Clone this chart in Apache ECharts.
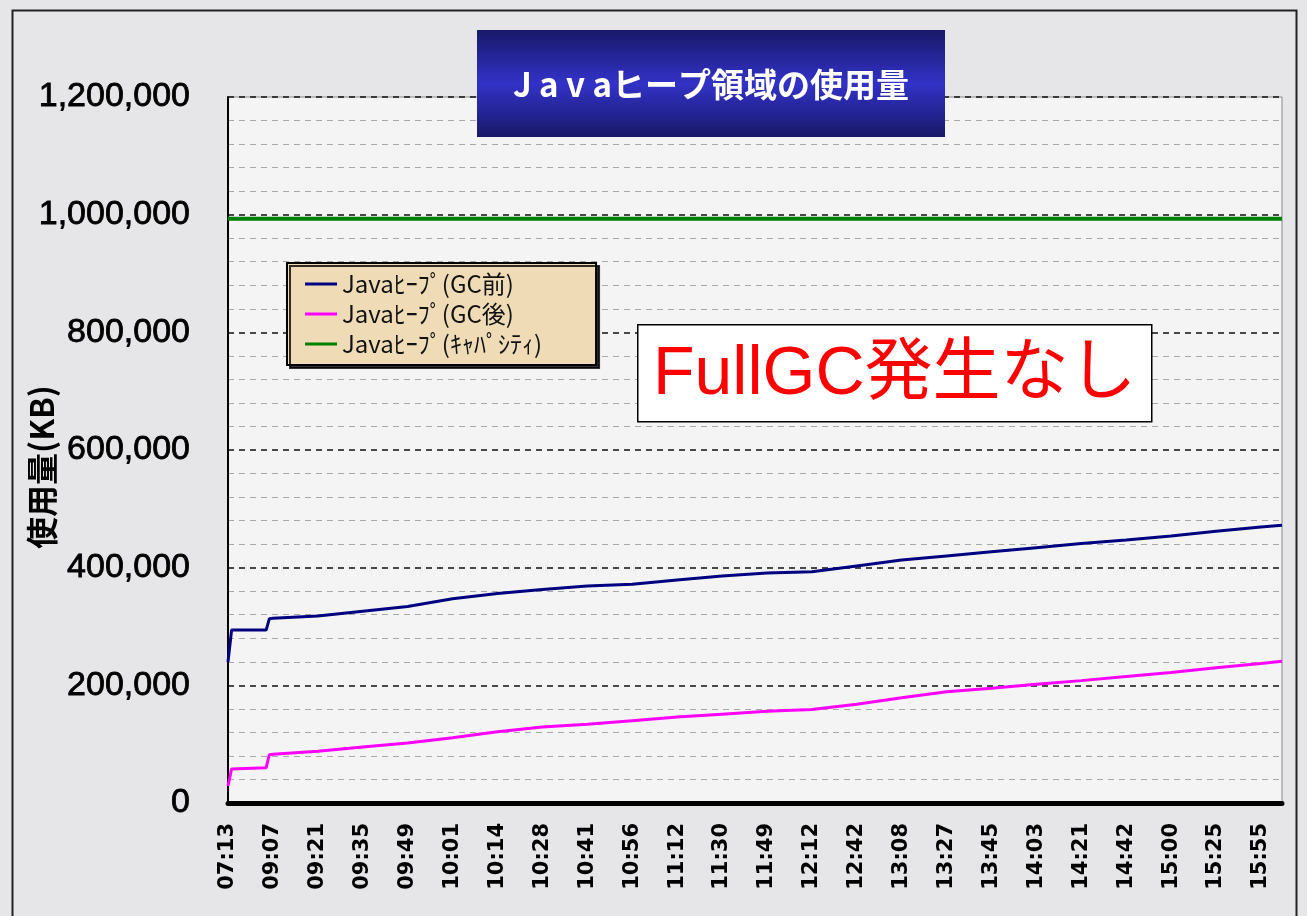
<!DOCTYPE html>
<html>
<head>
<meta charset="utf-8">
<title>Javaヒープ領域の使用量</title>
<script src="https://cdn.jsdelivr.net/npm/echarts@6/dist/echarts.min.js"></script>
<style>
  html, body { margin: 0; padding: 0; background: #e6e6e8; }
  #chart { width: 1307px; height: 916px; }
</style>
</head>
<body>
<div id="chart"></div>
<script>
// tick labels on the time axis (one every label interval)
var timeLabels = ['07:13', '09:07', '09:21', '09:35', '09:49', '10:01', '10:14', '10:28',
  '10:41', '10:56', '11:12', '11:30', '11:49', '12:12', '12:42', '13:08', '13:27',
  '13:45', '14:03', '14:21', '14:42', '15:00', '15:25', '15:55']

// sample positions, in label intervals from 07:13
var samplePos = [0, 0.08, 0.85, 0.92, 1, 2, 3, 4, 5, 6, 7, 8, 9, 10, 11, 12,
  13, 14, 15, 16, 17, 18, 19, 20, 21, 22, 23, 23.47]

// KB
var heapBefore = [240000, 294000, 294000, 313000, 314000, 318000, 326000, 334000, 347000,
  356000, 363000, 369000, 372000, 379000, 386000, 391000, 393000, 403000, 413000,
  420000, 427000, 434000, 441000, 447000, 454000, 462000, 469000, 472000]
var heapAfter = [29000, 58000, 60000, 82000, 83000, 88000, 95000, 102000, 111000,
  121000, 129000, 134000, 140000, 146000, 151000, 156000, 159000, 168000, 179000,
  189000, 195000, 202000, 208000, 215000, 222000, 230000, 237000, 241000]
var heapCapacity = 993000

var seriesNames = ['Javaﾋｰﾌﾟ(GC前)', 'Javaﾋｰﾌﾟ(GC後)', 'Javaﾋｰﾌﾟ(ｷｬﾊﾟｼﾃｨ)']

function pairs(values) {
  return samplePos.map(function(p, i) { return [p, values[i]] })
}

var chart = echarts.init(document.getElementById('chart'))

chart.setOption({
  animation: false,
  backgroundColor: '#e6e6e8',
  color: ['#000080', '#ff00ff', '#008000'],
  grid: {
    left: 228,
    right: 25,
    top: 97,
    bottom: 113,
    outerBoundsMode: 'none',
    containLabel: false,
    show: true,
    backgroundColor: '#f4f4f4',
    borderColor: '#8a8a8a',
    borderWidth: 1
  },
  legend: {
    orient: 'vertical',
    left: 287,
    top: 263,
    padding: [9, 54, 9, 18],
    itemGap: 6,
    itemWidth: 32,
    itemHeight: 3,
    icon: 'rect',
    backgroundColor: '#efdcb6',
    borderColor: '#000',
    borderWidth: 2,
    shadowColor: 'rgba(0,0,0,0.8)',
    shadowOffsetX: 3,
    shadowOffsetY: 3,
    textStyle: {
      color: '#111',
      fontSize: 24,
      fontFamily: 'Noto Sans CJK JP'
    },
    data: seriesNames
  },
  xAxis: {
    type: 'value',
    min: 0,
    max: samplePos[samplePos.length - 1],
    interval: 1,
    axisLine: { onZero: false, lineStyle: { color: '#000', width: 5 } },
    axisTick: { show: false },
    splitLine: { show: false },
    axisLabel: {
      rotate: 90,
      margin: 20,
      color: '#000',
      fontSize: 21,
      fontWeight: 'bold',
      fontFamily: 'DejaVu Sans',
      showMaxLabel: false,
      formatter: function(v) {
        return Number.isInteger(v) ? (timeLabels[v] || '') : ''
      }
    }
  },
  yAxis: {
    type: 'value',
    min: 0,
    max: 1200000,
    interval: 200000,
    name: '使用量(KB)',
    nameLocation: 'middle',
    nameRotate: 90,
    nameGap: 170,
    nameMoveOverlap: false,
    nameTextStyle: {
      color: '#000',
      fontSize: 32,
      fontWeight: 'bold',
      fontFamily: 'Noto Sans CJK JP',
      padding: [0, 34, 0, 0]
    },
    axisLine: { show: true, lineStyle: { color: '#000', width: 2 } },
    axisTick: { show: false },
    minorTick: { show: false, splitNumber: 5 },
    minorSplitLine: {
      show: true,
      lineStyle: { color: '#a8a8a8', width: 1, type: [6, 5] }
    },
    splitLine: {
      show: true,
      lineStyle: { color: '#111', width: 1.5, type: [6, 5] }
    },
    axisLabel: {
      margin: 38,
      color: '#000',
      fontSize: 34,
      fontFamily: 'Liberation Sans',
      textBorderColor: '#000',
      textBorderWidth: 0.8,
      formatter: function(v) { return v.toLocaleString('en-US') }
    }
  },
  series: [
    {
      name: seriesNames[0],
      type: 'line',
      showSymbol: false,
      symbol: 'none',
      lineStyle: { width: 3 },
      data: pairs(heapBefore)
    },
    {
      name: seriesNames[1],
      type: 'line',
      showSymbol: false,
      symbol: 'none',
      lineStyle: { width: 3 },
      data: pairs(heapAfter)
    },
    {
      name: seriesNames[2],
      type: 'line',
      showSymbol: false,
      symbol: 'none',
      lineStyle: { width: 4 },
      data: [[samplePos[0], heapCapacity], [samplePos[samplePos.length - 1], heapCapacity]]
    }
  ],
  graphic: [
    {
      type: 'rect',
      left: 10,
      top: 8,
      z: 100,
      silent: true,
      shape: { width: 1284, height: 930 },
      style: { fill: 'none', stroke: '#222', lineWidth: 2 }
    },
    {
      type: 'group',
      left: 477,
      top: 30,
      z: 100,
      children: [
        {
          type: 'rect',
          z: 100,
          shape: { width: 468, height: 107 },
          style: {
            fill: new echarts.graphic.LinearGradient(0, 0, 0, 1, [
              { offset: 0, color: '#181868' },
              { offset: 0.5, color: '#3232c8' },
              { offset: 1, color: '#181868' }
            ])
          }
        },
        {
          type: 'text',
          z: 101,
          x: 234,
          y: 54,
          style: {
            text: 'J a v aヒープ領域の使用量',
            fill: '#fff',
            fontSize: 33,
            fontWeight: 'bold',
            fontFamily: 'Noto Sans CJK JP',
            align: 'center',
            verticalAlign: 'middle'
          }
        }
      ]
    },
    {
      type: 'group',
      left: 637,
      top: 324,
      z: 100,
      children: [
        {
          type: 'rect',
          z: 100,
          shape: { width: 514, height: 97 },
          style: { fill: '#fff', stroke: '#000', lineWidth: 1.5 }
        },
        {
          type: 'text',
          z: 101,
          x: 257,
          y: 50,
          style: {
            text: 'FullGC発生なし',
            fill: '#ff0000',
            fontSize: 68,
            fontFamily: 'Liberation Sans, Noto Sans CJK JP',
            align: 'center',
            verticalAlign: 'middle'
          }
        }
      ]
    }
  ]
})
</script>
</body>
</html>
